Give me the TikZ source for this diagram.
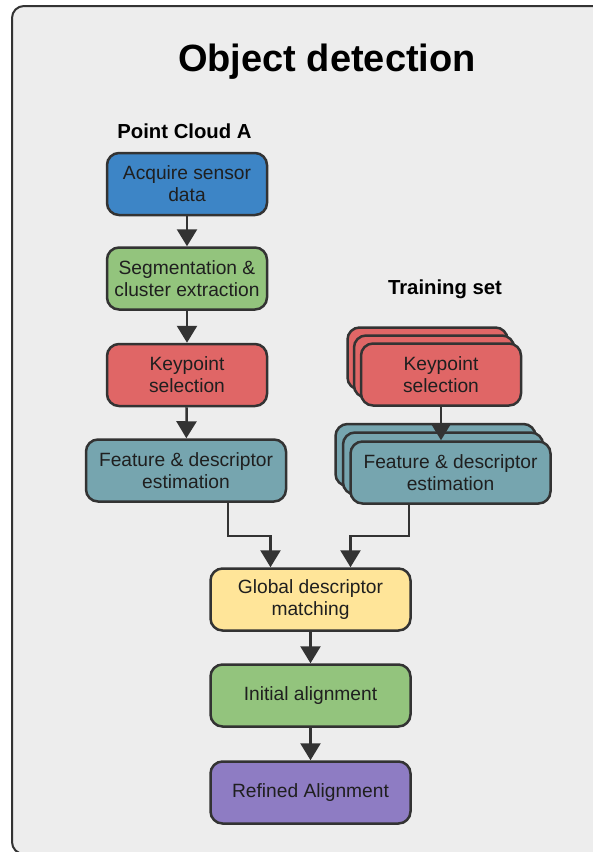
\documentclass[tikz,border=0pt]{standalone}
\usepackage{fontspec}
\setmainfont{Liberation Sans}
\usetikzlibrary{arrows.meta}

\definecolor{panelbg}{HTML}{EDEDED}
\definecolor{ink}{HTML}{333333}
\definecolor{cblue}{HTML}{3D85C6}
\definecolor{cgreen}{HTML}{93C47D}
\definecolor{cred}{HTML}{E06666}
\definecolor{cteal}{HTML}{76A5AF}
\definecolor{cyellow}{HTML}{FFE599}
\definecolor{cpurple}{HTML}{8E7CC3}

\tikzset{
  box/.style={draw=ink, line width=2.5pt, rounded corners=12pt,
    minimum height=62pt, align=center, text=black!88,
    font=\fontsize{19.2}{22}\selectfont, inner sep=2pt},
  narrowbox/.style={box, minimum width=160pt},
  widebox/.style={box, minimum width=200pt},
  flow/.style={draw=ink, line width=2.5pt,
    -{Triangle[width=20pt,length=17pt]}},
  heading/.style={font=\bfseries\fontsize{20.3}{22}\selectfont},
}

\begin{document}
\begin{tikzpicture}[x=1pt, y=-1pt]
  \useasboundingbox (0,0) rectangle (593,852);
  \clip (0,0) rectangle (593,852);

  % outer panel
  \draw[fill=panelbg, draw=ink, line width=2pt, rounded corners=12pt]
    (12,6) rectangle (640,854);

  % titles
  \node[font=\bfseries\fontsize{38}{42}\selectfont] (title) at (327,62) {Object detection};
  \node[heading] (pcA) at (184.5,131) {Point Cloud A};
  \node[heading] (tset) at (445,289) {Training set};

  % left pipeline
  \node[narrowbox, fill=cblue]  (acq) at (187,184)   {Acquire sensor\\data};
  \node[narrowbox, fill=cgreen] (seg) at (187,278.5) {Segmentation \&\\cluster extraction};
  \node[narrowbox, fill=cred]   (kpL) at (187,375)   {Keypoint\\selection};
  \node[widebox,   fill=cteal]  (feL) at (186,470.5) {Feature \& descriptor\\estimation};

  % training set stacks
  \node[narrowbox, fill=cred] (kpB2) at (427.5,358.5) {};
  \node[narrowbox, fill=cred] (kpB1) at (434,366.5) {};
  \node[narrowbox, fill=cred] (kpT)  at (441,374.5) {Keypoint\\selection};

  \node[widebox, fill=cteal] (feB2) at (435.5,455) {};
  \node[widebox, fill=cteal] (feB1) at (443,463.5) {};
  \node[widebox, fill=cteal] (feT)  at (450.5,472.5) {Feature \& descriptor\\estimation};

  % shared tail
  \node[widebox, fill=cyellow] (glob) at (310.5,599.5) {Global descriptor\\matching};
  \node[widebox, fill=cgreen]  (init) at (310.5,695.5) {Initial alignment};
  \node[widebox, fill=cpurple] (ref)  at (310.5,792.5) {Refined Alignment};

  % connectors
  \draw[flow] (acq) -- (seg);
  \draw[flow] (seg) -- (kpL);
  \draw[flow] (kpL) -- (feL);
  \draw[flow] (kpT.south) -- (kpT.south |- feT.north);
  \draw[flow] ([xshift=42pt]feL.south) -- ++(0,33) -| ([xshift=-40pt]glob.north);
  \draw[flow] ([xshift=-41.5pt]feT.south) -- ++(0,31) -| ([xshift=40pt]glob.north);
  \draw[flow] (glob) -- (init);
  \draw[flow] (init) -- (ref);
\end{tikzpicture}
\end{document}
